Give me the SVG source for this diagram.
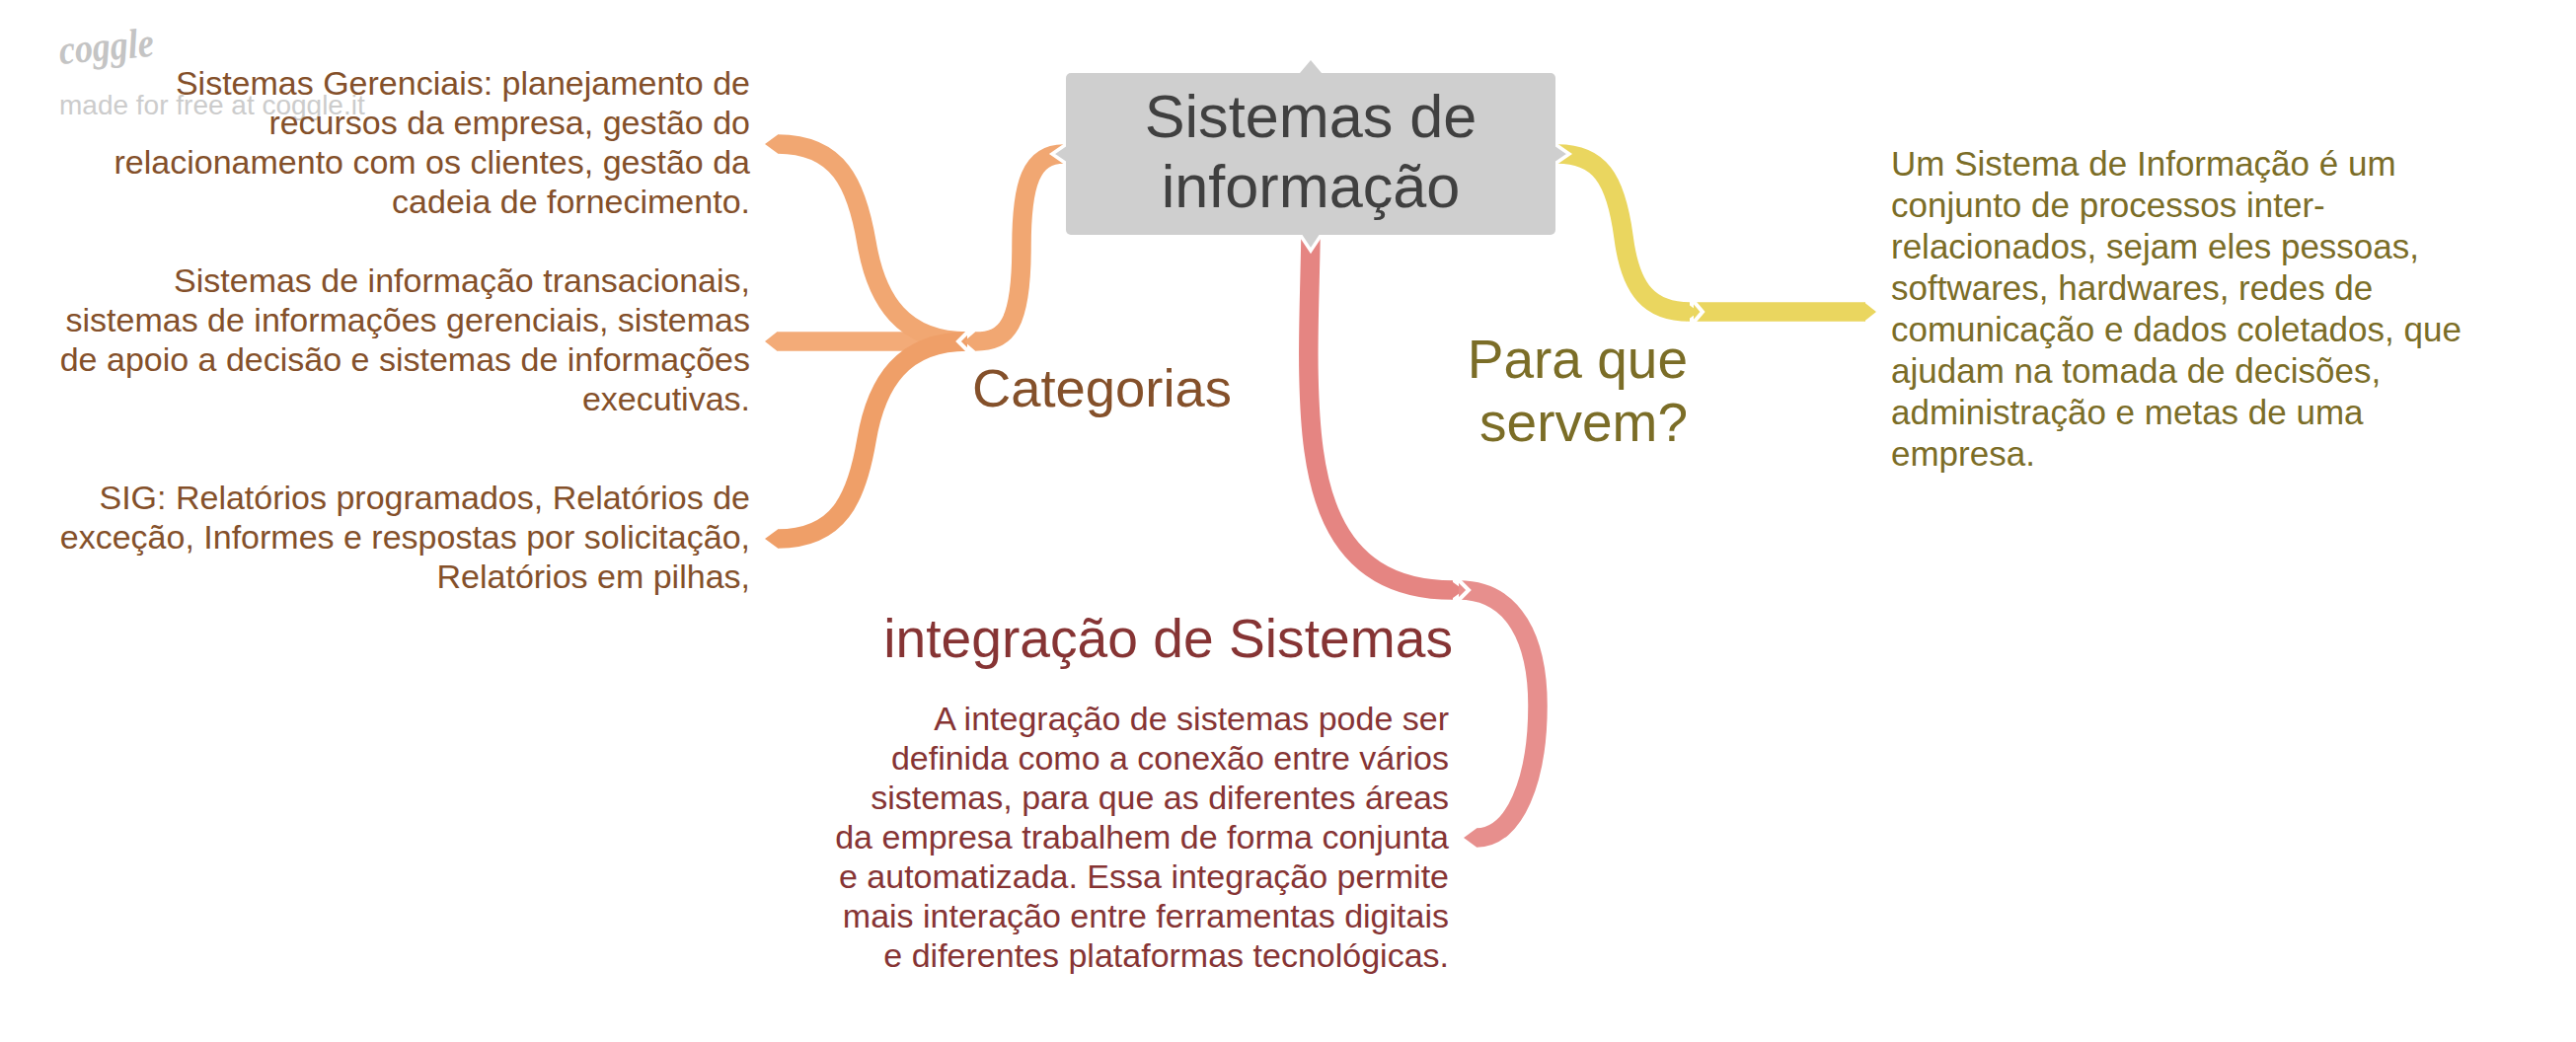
<svg xmlns="http://www.w3.org/2000/svg" width="2610" height="1056" viewBox="0 0 2610 1056">
<style>
text{font-family:"Liberation Sans",Arial,sans-serif}
.c{fill:none;stroke-width:19.5;stroke-linecap:butt}
.o1{stroke:#f1a772}.o2{stroke:#f3ab78}.o3{stroke:#ef9f68}
.y{stroke:#ead65f}.r1{stroke:#e58582}.r2{stroke:#e78f8d}
.w{fill:none;stroke:#fff;stroke-width:4}
.b{fill:#84502a;font-size:34px;text-anchor:end}
.t1{font-size:55px;text-anchor:end}
.ol{fill:#7b6d27}
.m{fill:#863434;font-size:34px;text-anchor:end}
.rt{fill:#404040;font-size:61.2px;text-anchor:middle}
</style>
<g id="connectors">
<path class="c o2" d="M787,346H980"/>
<polygon points="775,346 787,336.5 787,355.5" fill="#f3ab78"/>
<path class="c o1" d="M788,146C850,146 868,187 878,246C888,305 915,346 980,346"/>
<polygon points="775,146 788,136.5 788,155.5" fill="#f1a772"/>
<path class="c o3" d="M788,546C850,546 868,505 878,446C888,387 915,346 980,346"/>
<polygon points="775,546 788,536.5 788,555.5" fill="#ef9f68"/>
<polyline class="w" points="982,335 971,346 982,357"/>
<path class="c o1" d="M988,346C1020,346 1035,330 1035,250C1035,185 1045,156 1078,156"/>
<polygon points="977,346 988,336.5 988,355.5" fill="#f1a772"/>
<path class="c y" d="M1578,156C1620,156 1637,180 1645,240C1652,295 1672,316 1712,316"/>
<polygon points="1708,306.5 1721,316 1708,325.5" fill="#ead65f"/>
<path class="c y" d="M1716,316H1890"/>
<polygon points="1889,306.5 1901,316 1889,325.5" fill="#ead65f"/>
<polyline class="w" points="1714,303 1725,316 1714,329"/>
<path class="c r1" d="M1328,240C1327,300 1325,340 1326,380C1328,480 1340,598 1472,598"/>
<polygon points="1470,588.500 1483,598 1470,607.500" fill="#e58582"/>
<path class="c r2" d="M1478,598C1535,598 1558,650 1558,715C1558,790 1535,849 1496,849"/>
<polygon points="1483,849 1496,839.500 1496,858.500" fill="#e78f8d"/>
<polyline class="w" points="1476,586 1488,598 1476,610"/>
</g>
<g id="logo">
<text x="61" y="65" transform="rotate(-5 61 65)" font-size="42" font-style="italic" font-weight="bold" textLength="96" lengthAdjust="spacingAndGlyphs" fill="#c4c4c4" style="font-family:'Liberation Serif',serif">coggle</text>
<text x="60" y="116" font-size="28" fill="#cccccc">made for free at coggle.it</text>
</g>
<g id="root">
<path d="M1082,145L1066,156L1082,167M1574,145L1590,156L1574,167" fill="#cfcfcf" stroke="#fff" stroke-width="3.5"/>
<polygon points="1316,236 1328,254 1340,236" fill="#cfcfcf" stroke="#fff" stroke-width="3.5"/>
<polygon points="1317,74 1328,61 1339,74" fill="#cfcfcf"/>
<rect x="1080" y="74" width="496" height="164" rx="5" fill="#cfcfcf"/>
<text class="rt" x="1328" y="139">Sistemas de</text>
<text class="rt" x="1328" y="210">informação</text>
</g>
<g id="categorias"><text class="t1" style="font-size:54.4px" x="1248" y="412" fill="#84502a">Categorias</text></g>
<g id="gerenciais">
<text class="b" x="760" y="96">Sistemas Gerenciais: planejamento de</text>
<text class="b" x="760" y="136">recursos da empresa, gestão do</text>
<text class="b" x="760" y="176">relacionamento com os clientes, gestão da</text>
<text class="b" x="760" y="216">cadeia de fornecimento.</text>
</g>
<g id="transacionais">
<text class="b" x="760" y="296">Sistemas de informação transacionais,</text>
<text class="b" x="760" y="336">sistemas de informações gerenciais, sistemas</text>
<text class="b" x="760" y="376">de apoio a decisão e sistemas de informações</text>
<text class="b" x="760" y="416">executivas.</text>
</g>
<g id="sig">
<text class="b" x="760" y="516">SIG: Relatórios programados, Relatórios de</text>
<text class="b" x="760" y="556">exceção, Informes e respostas por solicitação,</text>
<text class="b" x="760" y="596">Relatórios em pilhas,</text>
</g>
<g id="para-que">
<text class="t1 ol" x="1710" y="383">Para que</text>
<text class="t1 ol" x="1710" y="447">servem?</text>
</g>
<g id="definicao" font-size="35" class="ol">
<text x="1916" y="178">Um Sistema de Informação é um</text>
<text x="1916" y="220">conjunto de processos inter-</text>
<text x="1916" y="262">relacionados, sejam eles pessoas,</text>
<text x="1916" y="304">softwares, hardwares, redes de</text>
<text x="1916" y="346">comunicação e dados coletados, que</text>
<text x="1916" y="388">ajudam na tomada de decisões,</text>
<text x="1916" y="430">administração e metas de uma</text>
<text x="1916" y="472">empresa.</text>
</g>
<g id="integracao"><text class="t1" style="font-size:55.2px" x="1472" y="666" fill="#863434">integração de Sistemas</text></g>
<g id="integracao-texto">
<text class="m" x="1468" y="740">A integração de sistemas pode ser</text>
<text class="m" x="1468" y="780">definida como a conexão entre vários</text>
<text class="m" x="1468" y="820">sistemas, para que as diferentes áreas</text>
<text class="m" x="1468" y="860">da empresa trabalhem de forma conjunta</text>
<text class="m" x="1468" y="900">e automatizada. Essa integração permite</text>
<text class="m" x="1468" y="940">mais interação entre ferramentas digitais</text>
<text class="m" x="1468" y="980">e diferentes plataformas tecnológicas.</text>
</g>
</svg>
